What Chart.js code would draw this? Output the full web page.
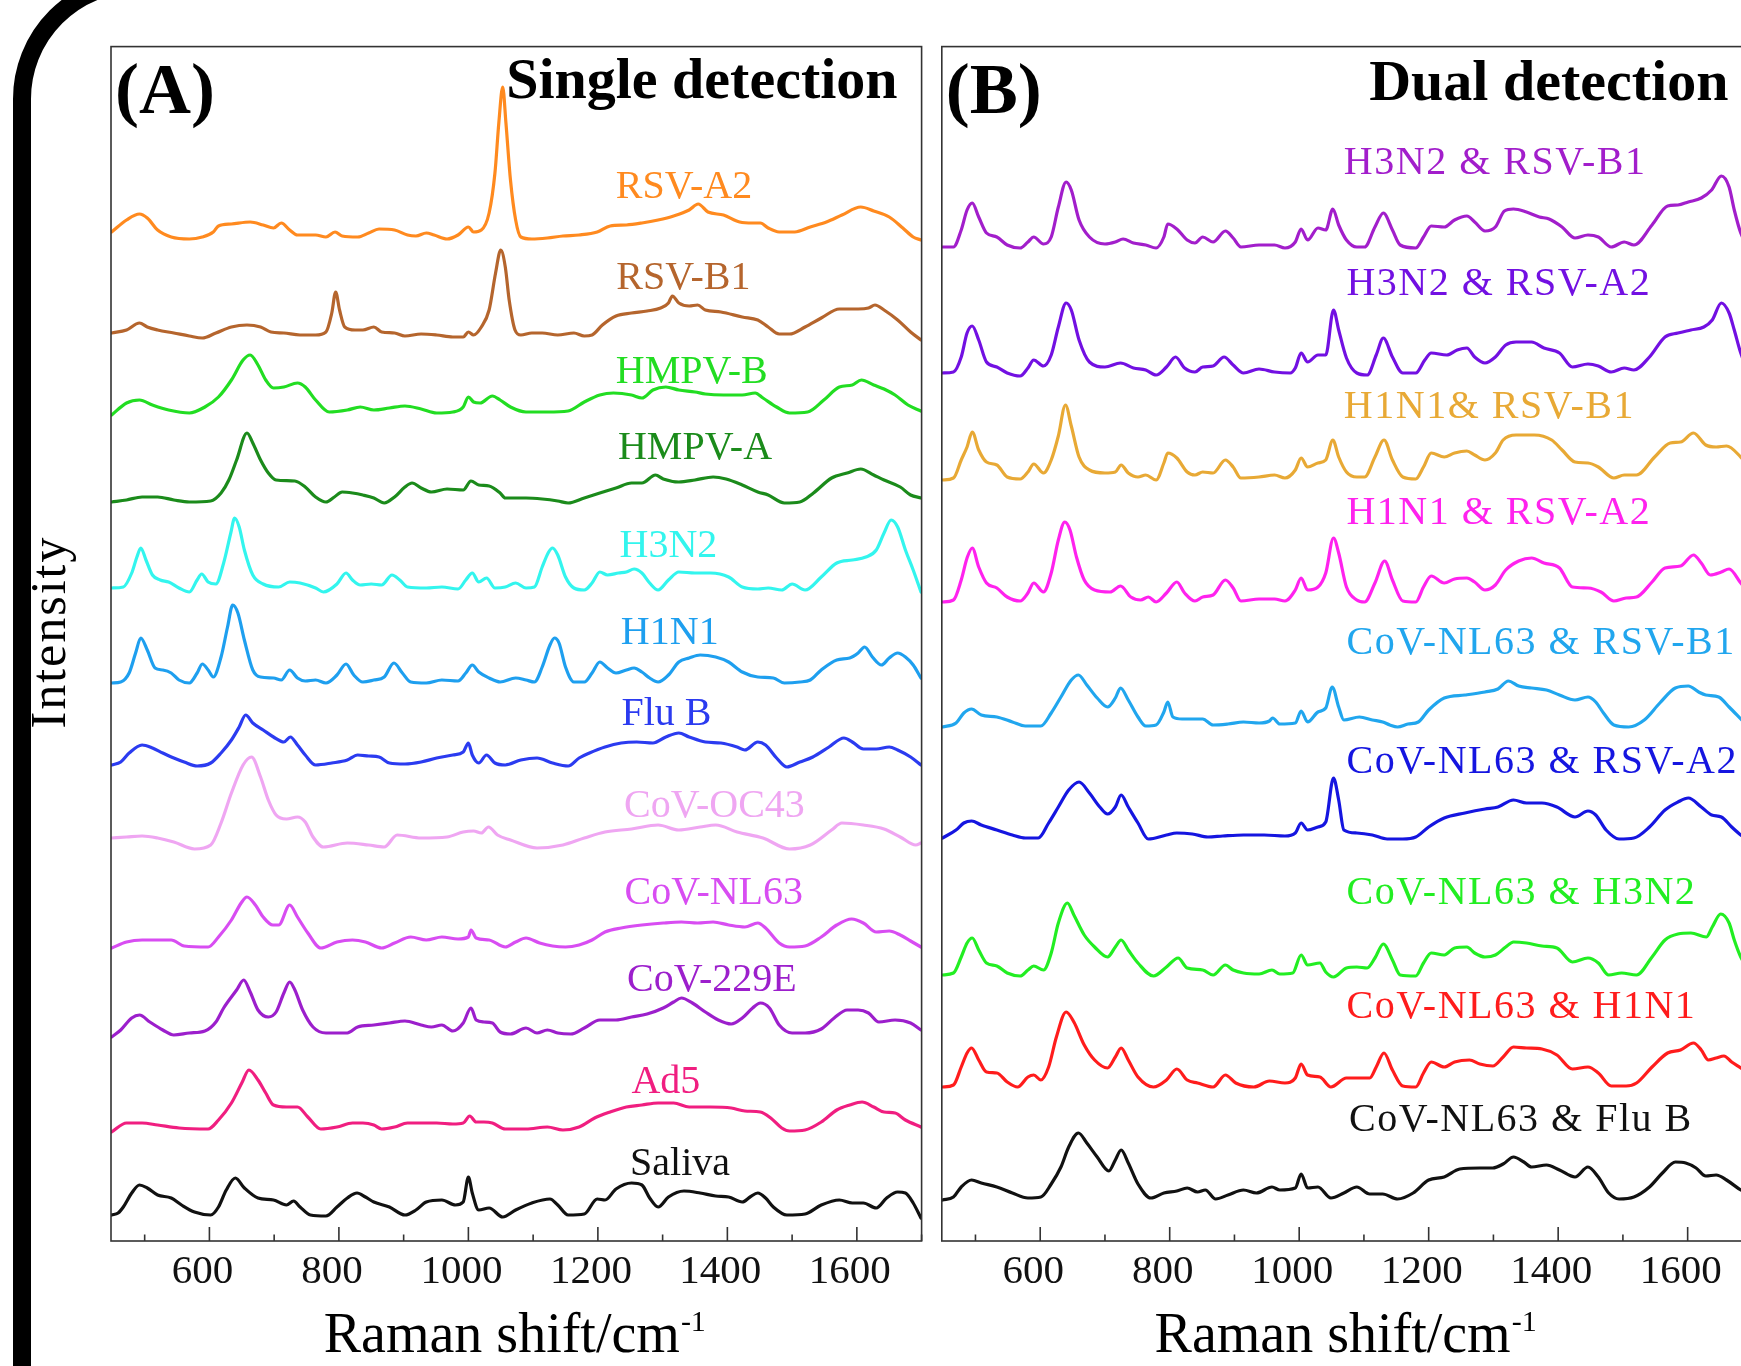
<!DOCTYPE html>
<html>
<head>
<meta charset="utf-8">
<script src="https://cdn.jsdelivr.net/npm/chart.js@4.4.1/dist/chart.umd.min.js"></script>
<style>
  html, body { margin: 0; padding: 0; background: #fff; overflow: hidden; }
  #page { position: relative; width: 1741px; height: 1366px; overflow: hidden; background: #fff; }
  #frame { position: absolute; left: 13px; top: -26px; width: 3000px; height: 3000px;
           border: 18px solid #000; border-radius: 125px; box-sizing: border-box; }
  canvas { position: absolute; top: 0; }
  #chartA { left: 0; }
  #chartB { left: 931px; }
</style>
</head>
<body>
<div id="page">
  <div id="frame"></div>
  <canvas id="chartA" width="940" height="1366"></canvas>
  <canvas id="chartB" width="900" height="1366"></canvas>
</div>
<script>
// Raman shift range and stacked intensity range (arbitrary units, offsets included)
const shiftMin = 448, shiftMax = 1700;
const intensityMax = 1194.4;
const majorTicks = [600, 800, 1000, 1200, 1400, 1600];
const minorTicks = [500, 700, 900, 1100, 1300, 1500, 1700];

// ---- (A) single detection, [shift, intensity] ----
const rsvA2 = [[449,1009],[472,1021],[492,1027],[504,1023],[520,1011],[541,1004],[569,1002],[589,1004],[606,1009],[614,1015],[634,1017],[663,1019],[683,1016],[699,1013],[711,1018],[724,1011],[736,1006],[764,1006],[780,1004],[794,1009],[805,1005],[829,1004],[846,1008],[862,1012],[886,1011],[906,1006],[919,1005],[935,1008],[947,1006],[967,1002],[984,1006],[1000,1014],[1008,1009],[1020,1011],[1032,1028],[1041,1068],[1047,1118],[1053,1154],[1058,1118],[1065,1061],[1073,1021],[1081,1004],[1098,1002],[1122,1003],[1146,1005],[1171,1006],[1199,1009],[1219,1015],[1244,1016],[1268,1018],[1293,1021],[1317,1025],[1341,1031],[1355,1037],[1370,1029],[1394,1026],[1419,1019],[1439,1018],[1451,1018],[1463,1013],[1480,1009],[1504,1009],[1528,1014],[1553,1019],[1577,1026],[1606,1034],[1626,1030],[1650,1024],[1671,1013],[1687,1004],[1699,1001]];
const rsvB1 = [[449,908],[472,911],[492,918],[504,914],[520,911],[545,908],[569,905],[589,903],[610,908],[634,914],[658,916],[679,914],[695,909],[715,908],[740,906],[764,906],[780,909],[789,928],[795,949],[801,931],[809,914],[825,911],[837,911],[854,914],[866,909],[886,908],[902,905],[927,907],[951,906],[976,904],[992,904],[1000,909],[1008,906],[1020,914],[1032,931],[1042,968],[1050,991],[1057,974],[1063,941],[1072,911],[1081,906],[1098,908],[1114,908],[1138,906],[1163,908],[1179,905],[1191,906],[1207,916],[1228,925],[1252,928],[1276,930],[1297,933],[1309,938],[1315,945],[1325,938],[1341,935],[1354,936],[1366,931],[1390,929],[1423,924],[1447,921],[1463,914],[1480,907],[1496,907],[1520,914],[1545,923],[1573,932],[1602,932],[1618,933],[1628,936],[1642,931],[1663,921],[1683,909],[1699,901]];
const hmpvB = [[449,826],[472,838],[492,841],[512,836],[537,831],[569,828],[593,834],[614,844],[634,861],[652,881],[663,886],[675,876],[687,861],[699,853],[715,854],[736,858],[748,854],[764,841],[785,829],[813,831],[833,834],[854,831],[878,833],[902,835],[927,832],[951,828],[976,829],[992,834],[1000,844],[1008,839],[1018,838],[1037,845],[1049,841],[1065,834],[1089,829],[1122,829],[1154,830],[1179,839],[1203,846],[1224,848],[1252,846],[1268,843],[1285,851],[1305,854],[1325,851],[1350,849],[1366,847],[1394,846],[1423,846],[1443,848],[1455,843],[1476,834],[1496,828],[1524,829],[1549,841],[1573,854],[1593,856],[1607,861],[1626,856],[1642,852],[1659,846],[1679,836],[1699,830]];
const hmpvA = [[449,739],[472,741],[496,744],[520,744],[545,741],[569,739],[602,740],[618,748],[630,761],[642,781],[658,808],[667,798],[679,781],[691,768],[703,761],[732,760],[748,754],[764,744],[780,739],[793,744],[805,749],[821,748],[837,746],[854,743],[870,738],[886,744],[902,754],[913,758],[927,753],[943,749],[967,752],[992,751],[1004,760],[1016,756],[1032,755],[1049,748],[1057,743],[1089,743],[1114,742],[1138,740],[1154,738],[1179,743],[1203,748],[1228,753],[1252,758],[1268,758],[1289,766],[1301,762],[1325,759],[1350,761],[1378,764],[1398,762],[1423,756],[1447,749],[1463,746],[1488,738],[1512,739],[1533,748],[1561,763],[1585,768],[1606,772],[1626,766],[1642,761],[1667,754],[1683,746],[1699,743]];
const h3n2 = [[449,653],[467,654],[480,668],[488,684],[494,693],[502,681],[512,666],[524,661],[537,659],[553,653],[569,649],[581,661],[588,667],[598,659],[610,657],[622,678],[633,708],[639,723],[646,714],[654,691],[667,666],[683,657],[707,654],[724,659],[740,658],[764,653],[776,649],[797,657],[811,668],[821,661],[833,656],[850,657],[866,656],[882,666],[894,661],[906,654],[935,653],[959,654],[984,652],[996,661],[1006,668],[1016,659],[1028,663],[1041,653],[1057,654],[1073,658],[1089,653],[1102,654],[1114,674],[1124,689],[1130,693],[1138,686],[1150,664],[1163,653],[1179,651],[1191,658],[1203,669],[1215,666],[1232,668],[1244,669],[1256,672],[1268,668],[1280,658],[1293,651],[1309,661],[1325,669],[1350,668],[1374,668],[1402,664],[1423,654],[1447,652],[1463,653],[1484,651],[1500,657],[1520,651],[1545,664],[1569,678],[1593,681],[1614,684],[1630,691],[1642,708],[1653,721],[1663,714],[1675,691],[1687,671],[1699,649]];
const h1n1 = [[449,558],[463,559],[476,568],[486,588],[494,603],[504,591],[516,573],[528,571],[541,568],[553,561],[569,558],[581,568],[589,577],[598,571],[606,564],[618,584],[628,614],[636,636],[644,628],[654,601],[667,571],[679,564],[699,563],[711,561],[724,571],[736,563],[748,560],[764,561],[780,558],[797,566],[811,577],[823,566],[837,559],[854,561],[870,564],[885,578],[898,568],[911,559],[935,558],[959,561],[984,560],[996,568],[1006,576],[1016,569],[1032,563],[1049,559],[1073,563],[1089,561],[1102,559],[1114,574],[1126,596],[1133,603],[1140,598],[1150,574],[1163,559],[1179,559],[1191,568],[1203,579],[1215,573],[1228,568],[1244,571],[1256,573],[1268,569],[1280,563],[1293,559],[1309,566],[1325,579],[1341,583],[1358,586],[1382,584],[1402,579],[1423,569],[1447,564],[1471,563],[1488,558],[1512,559],[1528,561],[1545,571],[1569,581],[1589,583],[1602,588],[1612,594],[1624,584],[1638,576],[1650,583],[1663,588],[1675,584],[1687,576],[1699,563]];
const fluB = [[449,476],[463,479],[476,488],[496,496],[512,493],[528,488],[545,483],[561,479],[581,475],[602,478],[618,488],[634,501],[646,514],[656,526],[667,518],[683,511],[699,504],[715,499],[725,504],[736,496],[748,486],[764,476],[789,478],[813,481],[829,486],[846,485],[862,484],[878,478],[902,477],[927,479],[951,483],[976,486],[992,489],[1000,498],[1006,486],[1016,478],[1028,486],[1041,478],[1057,476],[1081,481],[1106,483],[1130,478],[1154,475],[1171,483],[1187,488],[1211,494],[1236,498],[1260,499],[1285,498],[1305,504],[1325,508],[1341,504],[1366,499],[1390,498],[1415,494],[1427,491],[1447,499],[1459,496],[1476,483],[1492,474],[1512,479],[1532,484],[1557,494],[1580,503],[1593,499],[1610,492],[1630,492],[1650,494],[1663,491],[1683,484],[1699,476]];
const covOC43 = [[449,403],[472,404],[496,405],[520,403],[545,399],[577,392],[602,396],[618,418],[634,448],[652,476],[665,484],[679,464],[691,441],[703,426],[719,422],[736,424],[748,419],[760,404],[776,394],[813,398],[846,396],[870,394],[890,406],[927,403],[967,404],[992,409],[1008,410],[1020,408],[1031,414],[1045,406],[1065,401],[1106,393],[1146,396],[1179,403],[1211,409],[1252,412],[1293,416],[1325,411],[1358,414],[1382,416],[1415,409],[1455,403],[1496,392],[1528,396],[1561,411],[1577,418],[1610,416],[1642,412],[1667,404],[1691,396],[1699,398]];
const covNL63 = [[449,293],[472,299],[496,301],[541,301],[561,295],[598,294],[614,304],[634,321],[649,338],[658,344],[671,336],[683,324],[698,316],[707,316],[724,336],[736,324],[752,308],[772,293],[797,299],[821,301],[841,299],[866,293],[886,298],[911,304],[935,301],[959,304],[984,302],[1000,304],[1004,311],[1012,303],[1032,301],[1057,294],[1073,299],[1089,303],[1110,298],[1130,295],[1150,294],[1171,296],[1191,301],[1211,309],[1236,313],[1268,316],[1301,318],[1329,319],[1354,318],[1378,319],[1402,316],[1427,314],[1447,318],[1459,313],[1480,298],[1496,294],[1520,295],[1545,304],[1569,316],[1592,322],[1610,318],[1630,309],[1650,310],[1667,306],[1683,300],[1699,294]];
const cov229E = [[449,204],[463,211],[480,223],[492,226],[508,219],[528,211],[545,206],[569,208],[593,210],[610,219],[622,233],[642,251],[653,261],[663,249],[675,231],[691,224],[703,229],[715,248],[724,259],[732,251],[744,231],[760,214],[780,208],[813,208],[829,214],[854,216],[878,218],[902,220],[927,216],[943,214],[959,216],[976,210],[992,218],[1004,233],[1012,221],[1024,219],[1037,218],[1049,209],[1065,207],[1089,213],[1106,208],[1122,211],[1138,208],[1158,207],[1179,213],[1203,221],[1228,221],[1252,224],[1276,227],[1301,233],[1317,239],[1329,243],[1346,238],[1366,229],[1386,221],[1406,217],[1423,223],[1439,233],[1451,238],[1465,233],[1480,216],[1500,208],[1520,208],[1545,212],[1565,223],[1585,231],[1602,231],[1618,228],[1634,219],[1659,221],[1683,218],[1699,211]];
const ad5 = [[449,109],[472,118],[496,118],[520,116],[553,113],[598,112],[614,121],[634,138],[650,158],[661,171],[675,161],[687,148],[699,136],[719,134],[736,134],[752,124],[772,112],[797,114],[821,118],[837,118],[854,116],[866,112],[886,114],[906,118],[927,118],[951,118],[976,117],[992,118],[1002,125],[1012,119],[1024,119],[1037,118],[1057,112],[1089,112],[1122,114],[1146,111],[1171,114],[1195,123],[1219,129],[1244,134],[1268,136],[1293,138],[1317,138],[1341,134],[1374,134],[1406,133],[1427,130],[1451,129],[1467,123],[1484,113],[1496,110],[1520,111],[1545,119],[1569,131],[1589,136],[1608,139],[1626,134],[1642,129],[1659,128],[1675,121],[1699,114]];
const saliva = [[449,26],[459,28],[467,34],[480,48],[492,56],[504,53],[520,46],[541,43],[557,36],[577,29],[602,26],[614,34],[626,51],[640,63],[654,53],[675,43],[699,41],[719,36],[730,40],[740,34],[756,26],[780,25],[797,34],[813,43],[828,48],[841,44],[854,39],[878,34],[902,26],[919,31],[935,39],[959,41],[980,36],[992,39],[1000,64],[1006,48],[1016,31],[1032,33],[1053,24],[1073,31],[1098,38],[1126,42],[1138,36],[1154,26],[1179,27],[1199,42],[1211,41],[1228,52],[1252,58],[1268,56],[1280,43],[1293,34],[1309,44],[1333,50],[1358,48],[1382,45],[1402,44],[1423,39],[1435,44],[1447,48],[1459,43],[1471,34],[1492,26],[1520,27],[1545,36],[1573,41],[1593,38],[1610,38],[1630,33],[1646,43],[1663,49],[1675,48],[1687,38],[1699,23]];

const singleNames = ['RSV-A2', 'RSV-B1', 'HMPV-B', 'HMPV-A', 'H3N2', 'H1N1', 'Flu B', 'CoV-OC43', 'CoV-NL63', 'CoV-229E', 'Ad5', 'Saliva'];
const singleSeries = [rsvA2, rsvB1, hmpvB, hmpvA, h3n2, h1n1, fluB, covOC43, covNL63, cov229E, ad5, saliva];

// ---- (B) dual detection, [shift, intensity] ----
const h3n2RsvB1 = [[449,994],[466,994],[478,1011],[487,1031],[495,1038],[505,1024],[517,1008],[533,1004],[549,996],[569,993],[581,999],[590,1004],[605,997],[617,1004],[628,1034],[640,1059],[648,1051],[660,1021],[676,1004],[700,997],[716,999],[728,1002],[744,998],[763,996],[779,993],[791,1004],[797,1017],[811,1012],[827,1001],[839,998],[851,1004],[867,999],[886,1010],[898,1003],[910,994],[938,996],[962,996],[978,993],[994,999],[1003,1012],[1013,1001],[1029,1013],[1041,1011],[1052,1032],[1061,1016],[1073,1001],[1089,994],[1101,994],[1117,1014],[1130,1028],[1144,1011],[1156,996],[1180,993],[1192,1004],[1204,1015],[1224,1014],[1240,1021],[1259,1025],[1271,1019],[1287,1010],[1303,1014],[1317,1030],[1331,1032],[1351,1029],[1371,1024],[1386,1022],[1406,1014],[1426,1003],[1446,1006],[1462,1004],[1482,994],[1502,999],[1517,996],[1545,1016],[1569,1035],[1585,1036],[1601,1039],[1621,1043],[1637,1051],[1652,1065],[1664,1054],[1672,1031],[1682,1008],[1700,985]];
const h3n2RsvA2 = [[449,868],[466,869],[478,884],[487,908],[495,915],[505,901],[517,879],[533,874],[549,868],[569,865],[581,873],[590,881],[605,875],[617,886],[628,914],[640,938],[648,931],[660,901],[676,879],[700,874],[724,878],[744,873],[763,871],[779,866],[795,874],[809,884],[823,873],[839,869],[851,874],[867,875],[884,884],[898,876],[914,868],[938,872],[962,869],[986,868],[994,873],[1003,888],[1013,879],[1029,886],[1041,886],[1053,931],[1061,911],[1073,883],[1089,868],[1105,866],[1119,886],[1130,903],[1144,884],[1160,868],[1180,868],[1194,881],[1204,888],[1228,886],[1244,891],[1259,893],[1271,884],[1287,878],[1303,884],[1319,896],[1335,899],[1359,899],[1378,893],[1402,888],[1422,874],[1446,877],[1462,875],[1482,869],[1502,873],[1517,871],[1541,884],[1565,904],[1585,908],[1605,911],[1625,914],[1638,921],[1652,938],[1664,928],[1672,911],[1682,888],[1700,860]];
const h1n1RsvB1 = [[449,761],[466,763],[478,781],[487,794],[495,809],[505,791],[517,779],[533,776],[549,764],[569,762],[581,769],[590,777],[605,768],[617,781],[628,805],[639,836],[648,815],[660,784],[676,771],[700,768],[716,769],[725,776],[736,768],[751,764],[763,766],[779,761],[791,778],[797,788],[811,783],[827,769],[839,766],[851,769],[867,768],[886,781],[898,774],[910,763],[938,764],[962,766],[978,763],[994,771],[1003,783],[1013,774],[1029,778],[1041,781],[1052,801],[1061,784],[1073,769],[1089,764],[1101,764],[1117,784],[1131,801],[1144,781],[1160,764],[1180,762],[1192,774],[1204,788],[1224,784],[1240,788],[1259,790],[1271,786],[1287,781],[1303,788],[1315,801],[1335,806],[1363,806],[1390,801],[1406,791],[1426,779],[1446,778],[1462,774],[1486,763],[1502,766],[1521,766],[1549,784],[1573,798],[1589,799],[1609,808],[1628,796],[1644,794],[1660,795],[1682,784],[1700,770]];
const h1n1RsvA2 = [[449,639],[466,641],[478,661],[487,683],[495,693],[505,674],[517,658],[533,653],[549,644],[569,640],[581,648],[590,658],[605,649],[617,668],[628,701],[638,719],[646,711],[656,684],[668,661],[684,651],[708,649],[724,655],[740,644],[755,641],[767,644],[779,639],[795,648],[811,659],[823,648],[839,640],[851,644],[867,646],[886,661],[898,653],[910,640],[938,642],[962,642],[978,640],[994,651],[1003,663],[1013,651],[1029,654],[1041,668],[1053,703],[1061,688],[1073,654],[1089,641],[1101,639],[1117,658],[1132,680],[1144,661],[1160,640],[1180,639],[1192,654],[1204,665],[1224,658],[1240,662],[1259,663],[1271,659],[1287,651],[1303,656],[1319,671],[1339,680],[1359,683],[1378,678],[1402,673],[1422,654],[1446,653],[1466,649],[1486,640],[1505,643],[1521,644],[1545,659],[1565,673],[1589,675],[1609,686],[1621,678],[1635,666],[1652,669],[1664,672],[1682,658],[1700,645]];
const nl63RsvB1 = [[449,514],[470,518],[482,528],[494,532],[509,526],[533,524],[557,519],[577,515],[601,515],[617,528],[632,544],[648,561],[659,566],[672,556],[688,543],[704,534],[716,543],[724,553],[736,541],[751,524],[763,515],[779,516],[791,529],[797,539],[805,524],[819,522],[851,522],[867,516],[890,517],[914,519],[938,518],[954,520],[959,523],[970,517],[994,518],[1003,530],[1013,519],[1029,529],[1041,533],[1051,554],[1061,534],[1069,521],[1093,524],[1113,521],[1129,519],[1140,516],[1152,514],[1168,517],[1184,519],[1200,531],[1224,543],[1256,546],[1287,549],[1307,552],[1323,560],[1339,555],[1359,553],[1382,551],[1402,546],[1426,541],[1446,544],[1458,539],[1470,528],[1486,516],[1509,514],[1533,521],[1557,538],[1581,553],[1601,555],[1617,549],[1628,546],[1648,544],[1664,534],[1682,522],[1700,510]];
const nl63RsvA2 = [[449,403],[470,411],[482,418],[494,420],[509,416],[533,411],[557,406],[577,403],[597,403],[613,418],[628,434],[644,451],[660,459],[676,448],[692,434],[704,427],[716,434],[725,446],[736,434],[751,418],[767,402],[795,406],[811,408],[835,407],[859,404],[882,405],[914,406],[946,406],[978,405],[994,408],[1003,418],[1013,411],[1029,414],[1041,419],[1053,463],[1061,441],[1069,411],[1089,408],[1113,406],[1136,402],[1160,402],[1180,404],[1200,414],[1224,423],[1256,428],[1287,432],[1307,434],[1331,441],[1351,438],[1375,438],[1398,434],[1426,424],[1446,430],[1458,426],[1474,411],[1494,402],[1517,403],[1541,414],[1565,431],[1585,439],[1601,443],[1621,434],[1637,426],[1652,424],[1668,414],[1682,406],[1700,398]];
const nl63H3n2 = [[449,266],[466,268],[478,284],[487,298],[495,303],[505,291],[517,278],[533,275],[549,268],[569,265],[581,271],[590,275],[605,271],[617,288],[628,318],[642,338],[652,326],[668,306],[684,294],[704,284],[716,294],[725,301],[736,291],[751,278],[775,265],[795,274],[813,283],[827,273],[851,271],[867,266],[886,276],[898,271],[914,268],[938,267],[958,271],[970,267],[990,268],[1003,286],[1013,276],[1032,278],[1041,269],[1053,264],[1073,273],[1089,274],[1105,273],[1117,283],[1130,297],[1144,281],[1156,266],[1180,265],[1192,278],[1204,288],[1224,286],[1240,293],[1259,294],[1271,288],[1287,284],[1303,286],[1319,294],[1331,299],[1351,298],[1375,295],[1398,293],[1422,279],[1446,283],[1462,278],[1478,266],[1498,268],[1521,266],[1545,284],[1565,301],[1585,307],[1605,308],[1629,304],[1638,314],[1651,327],[1664,318],[1672,301],[1682,284],[1700,265]];
const nl63H1n1 = [[449,154],[466,156],[478,174],[487,188],[494,193],[505,181],[517,169],[533,168],[549,159],[565,154],[581,164],[590,166],[601,161],[613,174],[625,204],[640,229],[652,219],[668,196],[684,181],[704,173],[716,184],[725,193],[736,181],[751,164],[775,154],[795,161],[811,172],[827,161],[843,158],[867,154],[886,166],[902,158],[930,154],[954,160],[978,158],[994,163],[1003,177],[1013,166],[1032,164],[1049,154],[1073,163],[1089,163],[1109,163],[1119,174],[1131,188],[1144,171],[1160,155],[1180,154],[1192,168],[1204,179],[1224,174],[1240,179],[1263,181],[1279,177],[1299,175],[1315,184],[1331,194],[1351,193],[1375,192],[1398,186],[1422,172],[1446,174],[1462,168],[1482,155],[1505,155],[1521,158],[1545,174],[1569,188],[1589,191],[1609,198],[1621,191],[1632,181],[1644,183],[1656,185],[1668,179],[1682,173],[1700,165]];
const nl63FluB = [[449,41],[466,44],[478,54],[494,61],[509,58],[533,54],[557,48],[581,43],[601,44],[617,57],[632,74],[644,94],[659,108],[672,98],[688,84],[706,70],[716,81],[725,91],[736,78],[751,57],[771,43],[791,48],[811,50],[827,53],[843,49],[855,51],[871,42],[890,46],[914,51],[934,48],[958,54],[970,51],[994,53],[1003,67],[1013,53],[1029,54],[1049,43],[1069,48],[1089,54],[1109,47],[1129,47],[1152,42],[1176,48],[1200,61],[1224,64],[1248,72],[1279,73],[1299,73],[1315,77],[1331,84],[1347,79],[1359,74],[1382,76],[1402,71],[1426,64],[1446,74],[1462,64],[1478,48],[1494,42],[1517,44],[1541,54],[1561,68],[1581,79],[1597,78],[1613,73],[1628,65],[1644,66],[1660,61],[1682,51],[1700,45]];

const dualNames = ['H3N2 & RSV-B1', 'H3N2 & RSV-A2', 'H1N1& RSV-B1', 'H1N1 & RSV-A2', 'CoV-NL63 & RSV-B1', 'CoV-NL63 & RSV-A2', 'CoV-NL63 & H3N2', 'CoV-NL63 & H1N1', 'CoV-NL63 & Flu B'];
const dualSeries = [h3n2RsvB1, h3n2RsvA2, h1n1RsvB1, h1n1RsvA2, nl63RsvB1, nl63RsvA2, nl63H3n2, nl63H1n1, nl63FluB];

// styling
const singleColors = ['#FF8A1F', '#B5652D', '#22DD22', '#1B8B1B', '#33F5EE', '#1E9FEF', '#2B3BF0', '#EFA6F2', '#D84DF2', '#9C1FCC', '#F01E80', '#111111'];
const dualColors = ['#A21ECB', '#7210E2', '#E8A935', '#FF22EE', '#21A6EE', '#1515E0', '#22EE22', '#FF1C1C', '#111111'];
// where each name is written, in axis units (A: centred, B: left edge)
const singleLabelAt = [[1333,1054],[1332,963],[1345,869],[1350,793],[1309,695],[1311,608],[1306,527],[1380,435],[1379,348],[1376,261],[1305,159],[1327,77]];
const dualLabelAt = [[1069,1078],[1073,957],[1069,834],[1073,728],[1073,598],[1073,479],[1073,348],[1073,234],[1077,121]];

const SERIF = '"Liberation Serif", "Times New Roman", serif';

const frameAndTicks = {
  id: 'frameAndTicks',
  afterDraw(chart) {
    const {ctx, chartArea: a, scales: {x}} = chart;
    ctx.save();
    ctx.strokeStyle = '#333';
    ctx.lineWidth = 1.6;
    ctx.strokeRect(a.left, a.top, a.right - a.left, a.bottom - a.top);
    ctx.beginPath();
    majorTicks.forEach(v => {
      const px = x.getPixelForValue(v);
      ctx.moveTo(px, a.bottom); ctx.lineTo(px, a.bottom - 14);
    });
    minorTicks.forEach(v => {
      const px = x.getPixelForValue(v);
      ctx.moveTo(px, a.bottom); ctx.lineTo(px, a.bottom - 6.5);
    });
    ctx.stroke();
    ctx.restore();
  }
};

function makeLabels(names, colors, at, align, spacing) {
  return {
    id: 'seriesLabels',
    afterDatasetsDraw(chart) {
      const {ctx, scales: {x, y}} = chart;
      ctx.save();
      ctx.font = '40px ' + SERIF;
      ctx.textBaseline = 'middle';
      ctx.textAlign = align;
      if (spacing) ctx.letterSpacing = spacing;
      names.forEach((name, i) => {
        ctx.fillStyle = colors[i];
        ctx.fillText(name, x.getPixelForValue(at[i][0]), y.getPixelForValue(at[i][1]));
      });
      ctx.restore();
    }
  };
}

function makeTitles(letter, heading, headBase, yTitle) {
  return {
    id: 'titles',
    afterDraw(chart) {
      const {ctx, chartArea: a} = chart;
      ctx.save();
      ctx.fillStyle = '#000';
      ctx.textBaseline = 'alphabetic';
      ctx.textAlign = 'left';
      ctx.font = 'bold 72px ' + SERIF;
      ctx.fillText(letter, a.left + 4, a.top + 66);
      ctx.textAlign = 'right';
      ctx.font = 'bold 58px ' + SERIF;
      ctx.fillText(heading, a.right - 24, a.top + headBase);

      // x title with superscript
      const main = 'Raman shift/cm', sup = '-1';
      ctx.textAlign = 'left';
      ctx.font = '56px ' + SERIF;
      const w1 = ctx.measureText(main).width;
      ctx.font = '30px ' + SERIF;
      const w2 = ctx.measureText(sup).width;
      const start = (a.left + a.right) / 2 - 2 - (w1 + w2) / 2;
      ctx.font = '56px ' + SERIF;
      ctx.fillText(main, start, 1352);
      ctx.font = '30px ' + SERIF;
      ctx.fillText(sup, start + w1 + 1, 1331);

      if (yTitle) {
        ctx.translate(52, 632);
        ctx.rotate(-Math.PI / 2);
        ctx.textAlign = 'center';
        ctx.textBaseline = 'middle';
        ctx.font = '50px ' + SERIF;
        ctx.letterSpacing = '2px';
        ctx.fillText(yTitle, 0, 0);
      }
      ctx.restore();
    }
  };
}

function buildPanel(canvasId, series, colors, padding, plugins) {
  return new Chart(document.getElementById(canvasId), {
    type: 'line',
    data: {
      datasets: series.map((d, i) => ({
        data: d,
        borderColor: colors[i],
        borderWidth: 3.2,
        pointRadius: 0,
        fill: false,
        cubicInterpolationMode: 'monotone',
        borderJoinStyle: 'round',
        borderCapStyle: 'round'
      }))
    },
    options: {
      responsive: false,
      animation: false,
      events: [],
      layout: { padding: padding },
      plugins: { legend: { display: false }, tooltip: { enabled: false } },
      scales: {
        x: {
          type: 'linear',
          min: shiftMin,
          max: shiftMax,
          afterBuildTicks: s => { s.ticks = majorTicks.map(v => ({ value: v })); },
          afterFit: s => { s.height = 125; },
          grid: { display: false, drawTicks: false },
          border: { display: false },
          ticks: {
            autoSkip: false,
            maxRotation: 0,
            padding: 7,
            labelOffset: -7,
            color: '#111',
            font: { family: 'Liberation Serif', size: 41 },
            callback: v => String(v)
          }
        },
        y: { display: false, min: 0, max: intensityMax }
      }
    },
    plugins: plugins
  });
}

buildPanel('chartA', singleSeries, singleColors,
  { left: 111, top: 46.6, right: 18.4, bottom: 0 },
  [frameAndTicks, makeLabels(singleNames, singleColors, singleLabelAt, 'center', null),
   makeTitles('(A)', 'Single detection', 51, 'Intensity')]);

buildPanel('chartB', dualSeries, dualColors,
  { left: 10.8, top: 46.6, right: 78.6, bottom: 0 },
  [frameAndTicks, makeLabels(dualNames, dualColors, dualLabelAt, 'left', '1.5px'),
   makeTitles('(B)', 'Dual detection', 53, null)]);
</script>
</body>
</html>
